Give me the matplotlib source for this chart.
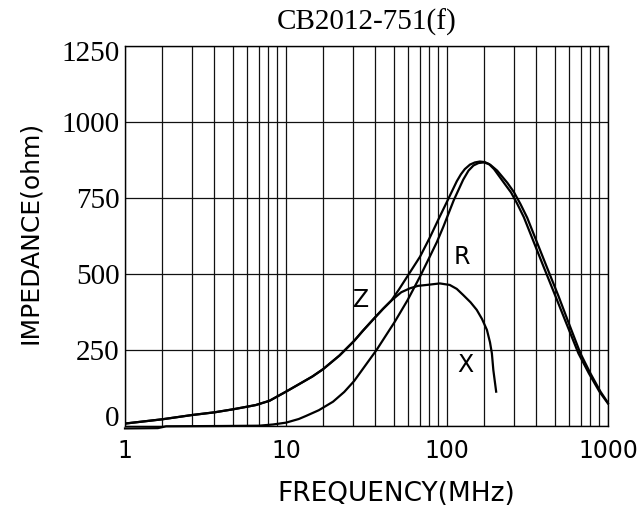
import matplotlib.pyplot as plt
from matplotlib.ticker import FixedLocator, NullFormatter
from matplotlib.transforms import ScaledTranslation

# low-frequency part, where Z and X run on top of each other
low_freq = [1, 1.7, 2.6, 3.6, 4.7, 5.8, 6.5, 7.9, 10, 12, 14.6, 17, 21.5, 26.5,
            30, 35, 40, 45]
low_ohm = [8, 22, 36, 45, 55, 64, 69, 83, 113, 137, 163, 187, 232, 280,
           313, 352, 385, 412]

# Z (|Z|) above the split
z_freq = low_freq + [50, 58.8, 68, 78.4, 90, 100, 115, 122, 129, 139, 149, 160, 172,
                     186, 205, 237, 260, 286, 315, 344, 416, 492, 567, 674, 778, 898, 1000]
z_ohm = low_ohm + [447, 505, 557, 621, 688, 738, 805, 828, 845, 860, 867, 870, 868,
                   859, 840, 800, 770, 730, 685, 634, 524, 428, 342, 239, 173, 113, 76]

# X (reactance) above the split
x_freq = low_freq + [52, 58.9, 66, 74.8, 90.3, 104, 115, 126, 140, 153, 165, 177,
                     185, 190, 194, 202]
x_ohm = low_ohm + [440, 453, 461, 464, 469, 464, 451, 431, 407, 382, 352, 316,
                   275, 239, 184, 113]

# R (resistance)
r_freq = [1, 1.6, 1.8, 4, 6.8, 8.3, 10, 12, 13.3, 16, 19.6, 23, 26.5, 31, 36.5, 42,
          47.4, 56.9, 67.9, 78, 86.5, 95, 110, 126, 136, 146, 157, 169, 182, 196,
          226.5, 250, 271.8, 300, 328.9, 398, 471, 547, 655, 761, 885, 1000]
r_ohm = [-8, -7, -1, 0, 1, 5, 11, 23, 33, 52, 80, 112, 148, 198, 250, 300,
         343, 414, 491, 556, 605, 656, 742, 810, 840, 857, 865, 867, 862, 845,
         799, 768, 733, 687, 634, 524, 428, 342, 239, 173, 113, 74]

y_ticks = [0, 250, 500, 750, 1000, 1250]
x_ticks = [1, 10, 100, 1000]
# the minor grid in the source is not quite log spaced: fraction of a decade
minor_frac = [0.227, 0.415, 0.555, 0.669, 0.757, 0.830, 0.891, 0.943]

curve_labels = [('Z', 29.4, 414), ('R', 123.5, 557), ('X', 129.4, 200)]

fig = plt.figure(figsize=(6.44, 5.07), dpi=100)
ax = fig.add_axes([125 / 644, 1 - 426 / 507, 483 / 644, 380 / 507])

ax.set_xscale('log')
ax.set_xlim(1, 1000)
ax.set_ylim(0, 1250)

minors = [10 ** (d + f) for d in range(3) for f in minor_frac]
ax.xaxis.set_major_locator(FixedLocator(x_ticks))
ax.xaxis.set_minor_locator(FixedLocator(minors))
ax.xaxis.set_minor_formatter(NullFormatter())
ax.set_xticks(x_ticks)
ax.set_xticklabels([str(t) for t in x_ticks], fontsize=17, family='DejaVu Sans')
ax.set_yticks(y_ticks)
ax.set_yticklabels([str(t) for t in y_ticks], fontsize=21, family='Liberation Serif')
ax.tick_params(which='both', length=0)
ax.tick_params(axis='x', pad=9)
ax.tick_params(axis='y', pad=4)

# end labels sit a little inside in the source
ylabs = ax.get_yticklabels()
ylabs[0].set_transform(ylabs[0].get_transform() + ScaledTranslation(0, 10 / 100, fig.dpi_scale_trans))
ylabs[-1].set_transform(ylabs[-1].get_transform() + ScaledTranslation(0, -5 / 100, fig.dpi_scale_trans))

ax.grid(True, which='both', color='#111111', linewidth=0.9)
ax.set_axisbelow(True)
for s in ax.spines.values():
    s.set_color('black')
    s.set_linewidth(1.0)

ax.plot(z_freq, z_ohm, color='black', linewidth=1.6)
ax.plot(r_freq, r_ohm, color='black', linewidth=1.6, clip_on=False)
ax.plot(x_freq, x_ohm, color='black', linewidth=1.6)

for txt, fx, fy in curve_labels:
    ax.text(fx, fy, txt, fontsize=17, family='DejaVu Sans', ha='center', va='center')

ax.set_title('CB2012-751(f)', fontsize=21, family='Liberation Serif', pad=12)
ax.set_xlabel('FREQUENCY(MHz)', fontsize=19, family='DejaVu Sans')
ax.xaxis.set_label_coords(0.561, -0.145)
ax.set_ylabel('IMPEDANCE(ohm)', fontsize=18, family='DejaVu Sans')
ax.yaxis.set_label_coords(-0.172, 0.51)

fig.savefig('out.png', dpi=100)
